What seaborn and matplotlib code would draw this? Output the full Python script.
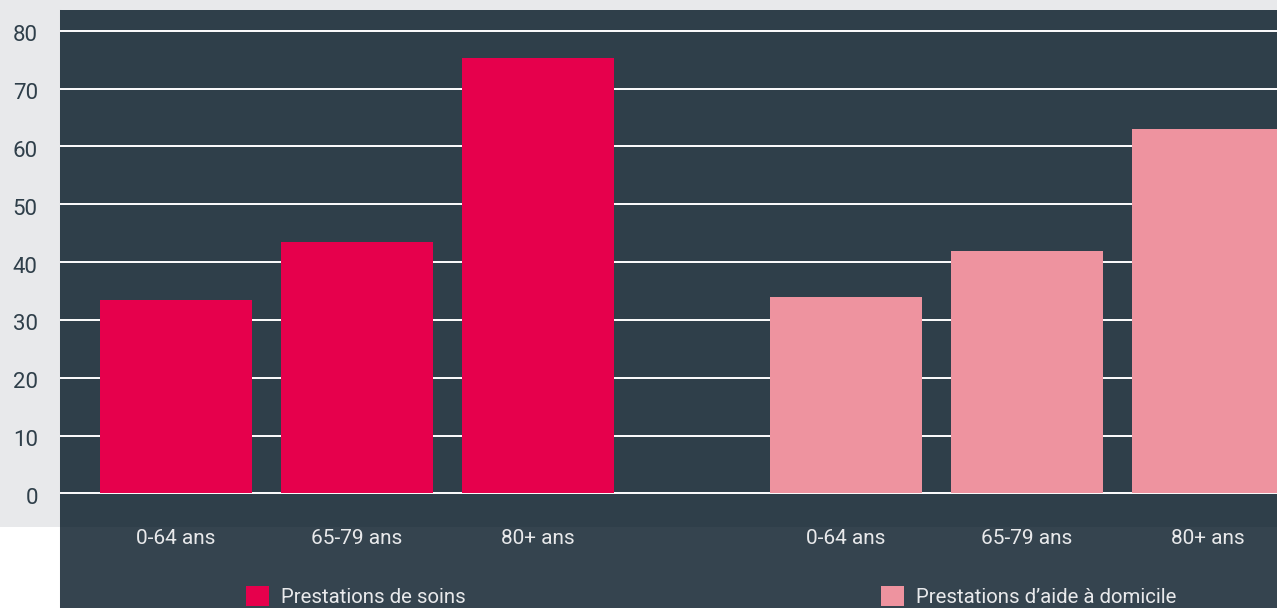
import matplotlib
matplotlib.use("Agg")
import matplotlib.pyplot as plt
import seaborn as sns
import pandas as pd
from matplotlib.patches import Rectangle, Patch
from matplotlib.lines import Line2D
from matplotlib.transforms import ScaledTranslation

# ---- data ----
age_groups = ["0-64 ans", "65-79 ans", "80+ ans"]
services = ["Prestations de soins", "Prestations d’aide à domicile"]
soins_values = [33.5, 43.5, 75.3]
aide_values = [34.0, 42.0, 63.1]
y_ticks = [0, 10, 20, 30, 40, 50, 60, 70, 80]

service_colors = ["#e6004c", "#ee939f"]

plt.rcParams["font.family"] = ["Roboto", "DejaVu Sans"]

group_offset = 3.7
rows = []
for g, (svc, vals) in enumerate(zip(services, [soins_values, aide_values])):
    for i, (age, v) in enumerate(zip(age_groups, vals)):
        rows.append(dict(service=svc, age=age, pos=i + g * group_offset, value=v))
df = pd.DataFrame(rows)

W, H = 1277, 608
fig = plt.figure(figsize=(W / 100, H / 100), dpi=100)
fig.patch.set_facecolor("white")

GRAY = "#e8e9eb"
PANEL = "#2f3f4a"
PANEL_LOW = "#35444f"
band_bottom = 527
panel_left = 60
panel_top = 10

fig.add_artist(Rectangle((0, 1 - band_bottom / H), 1, band_bottom / H,
                         transform=fig.transFigure, facecolor=GRAY,
                         edgecolor="none", zorder=-2))
fig.add_artist(Rectangle((panel_left / W, 0), 1 - panel_left / W, (H - band_bottom) / H,
                         transform=fig.transFigure, facecolor=PANEL_LOW,
                         edgecolor="none", zorder=-1))
fig.add_artist(Line2D([(panel_left - 0.5) / W] * 2, [0, 1 - panel_top / H],
                      transform=fig.transFigure, color="#c9ccd0", lw=0.8, zorder=-1.5))

ax = fig.add_axes([panel_left / W, 1 - band_bottom / H, 1 - panel_left / W,
                   (band_bottom - panel_top) / H])
ax.set_facecolor(PANEL)

sns.barplot(data=df, x="pos", y="value", hue="service",
            palette=dict(zip(services, service_colors)), hue_order=services,
            native_scale=True, width=0.84, dodge=False, saturation=1,
            errorbar=None, legend=False, ax=ax)

ax.set_xlim(-0.641, 6.083)
ax.set_ylim(-5.8, 83.6)
ax.set_yticks(y_ticks)
ax.set_yticklabels([str(t) for t in y_ticks])
ax.set_xticks(df["pos"].tolist())
ax.set_xticklabels(df["age"].tolist())
ax.tick_params(axis="y", length=0, pad=16, labelsize=16, labelcolor="#2f3f4a")
ax.tick_params(axis="x", length=0, pad=1.5, labelsize=15, labelcolor="#e8e9eb")
ax.set_xlabel("")
ax.set_ylabel("")
ax.yaxis.grid(True, color="white", linewidth=1.4)
ax.xaxis.grid(False)
ax.set_axisbelow(True)
for s in ax.spines.values():
    s.set_visible(False)

shift = ScaledTranslation(0, -2.5 / 100, fig.dpi_scale_trans)
for lab in ax.get_yticklabels():
    lab.set_transform(lab.get_transform() + shift)

legend_x = [246, 881]
for svc, col, lx in zip(services, service_colors, legend_x):
    fig.legend(handles=[Patch(facecolor=col, edgecolor="none")], labels=[svc],
               loc="center left", bbox_to_anchor=(lx / W, 1 - 596.5 / H),
               frameon=False, borderpad=0, borderaxespad=0,
               handlelength=1.12, handleheight=1.12, handletextpad=0.6,
               fontsize=14.7, labelcolor="#e8e9eb")

fig.savefig("out.png", dpi=100, facecolor=fig.get_facecolor())
